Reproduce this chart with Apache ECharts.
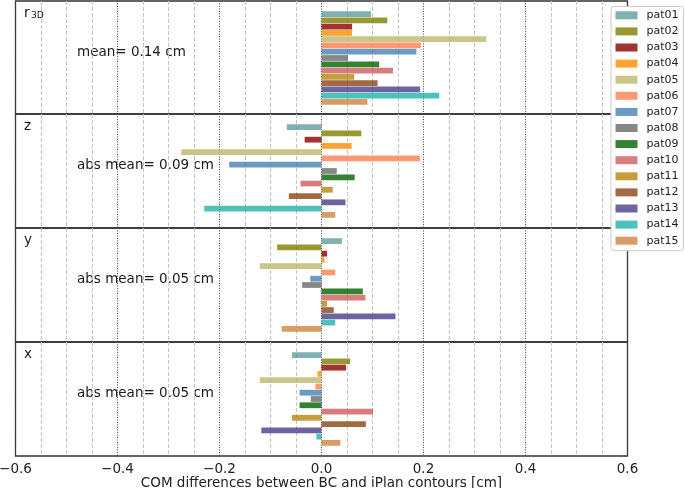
<!DOCTYPE html>
<html>
<head>
<meta charset="utf-8">
<script src="https://cdn.jsdelivr.net/npm/echarts@6/dist/echarts.min.js"></script>
<style>html,body{margin:0;padding:0;background:#fff}#c{width:685px;height:488px}</style>
</head>
<body>
<div id="c"></div>
<script>
const categories = ['pat01','pat02','pat03','pat04','pat05','pat06','pat07','pat08','pat09','pat10','pat11','pat12','pat13','pat14','pat15'];
const panelNames = ['r3D','z','y','x'];
const meanTexts = ['mean= 0.14 cm','abs mean= 0.09 cm','abs mean= 0.05 cm','abs mean= 0.05 cm'];
const r3d = [0.097,0.129,0.060,0.060,0.323,0.195,0.186,0.052,0.113,0.140,0.064,0.110,0.193,0.231,0.090];
const dz  = [-0.068,0.078,-0.033,0.059,-0.275,0.193,-0.181,0.030,0.065,-0.041,0.022,-0.064,0.047,-0.230,0.027];
const dy  = [0.040,-0.087,0.011,0.006,-0.121,0.027,-0.022,-0.038,0.081,0.086,0.011,0.024,0.145,0.027,-0.078];
const dx  = [-0.058,0.056,0.048,-0.008,-0.121,-0.012,-0.043,-0.021,-0.043,0.101,-0.058,0.087,-0.118,-0.010,0.037];
const xTicks = [-0.6,-0.4,-0.2,0.0,0.2,0.4,0.6];
const colors = ['#5F9EA0','#808000','#8B0000','#FF8C00','#BDB76B','#FF7F50','#4682B4','#696969','#006400','#CD5C5C','#B8860B','#8B4513','#483D8B','#20B2AA','#CD853F'];
const panelValues = [r3d, dz, dy, dx];

const FONT = 'DejaVu Sans';
const tops = [1,114,228,342];
const heights = [113,114,114,114];
const L = 15.5, R = 57.5;

const grid = [], xAxis = [], yAxis = [], series = [], graphic = [];
for (let p = 0; p < 4; p++) {
  grid.push({left:L, right:R, top:tops[p], height:heights[p], show:true, borderColor:'#333', borderWidth:1.3, backgroundColor:'transparent', containLabel:false, outerBoundsMode:'none'});
  xAxis.push({
    gridIndex:p, type:'value', min:-0.6, max:0.6, interval:0.2,
    axisLine:{show:false}, axisTick:{show:false},
    axisLabel:{show:p===3, fontFamily:FONT, fontSize:13.5, color:'#222', margin:6,
      showMinLabel:true, showMaxLabel:true, hideOverlap:false,
      formatter:v => { const t = xTicks.find(k => Math.abs(k - v) < 1e-6); return t === undefined ? '' : t.toFixed(1).replace('-', '\u2212'); }},
    splitLine:{show:true, lineStyle:{color:'#444', type:[1,1.5], width:1}},
    minorTick:{show:false, splitNumber:4},
    minorSplitLine:{show:true, lineStyle:{color:'#c4c4c4', type:[4,2], width:1}},
    name: p===3 ? 'COM differences between BC and iPlan contours [cm]' : '',
    nameLocation:'middle', nameGap:17.5,
    nameTextStyle:{fontFamily:FONT, fontSize:13.5, color:'#222'}
  });
  yAxis.push({gridIndex:p, type:'value', min:0, max:1, show:false});
}
for (let p = 0; p < 4; p++) {
  grid.push({left:L, right:R, top:tops[p]+10, height:94, containLabel:false, outerBoundsMode:'none'});
  xAxis.push({gridIndex:4+p, type:'value', min:-0.6, max:0.6, show:false});
  yAxis.push({gridIndex:4+p, type:'category', data:categories, inverse:true, show:false});
  for (let k = 0; k < categories.length; k++) {
    series.push({
      type:'bar', name:categories[k], xAxisIndex:4+p, yAxisIndex:4+p,
      data: categories.map((c, j) => j === k ? panelValues[p][j] : '-'),
      barGap:'-100%', barCategoryGap:'8%',
      itemStyle:{color:colors[k], opacity:0.8},
      silent:true
    });
  }
  if (p === 0) {
    graphic.push({type:'text', left:24, top:tops[p]+13.5-8, style:{text:'r', font:'13.5px "DejaVu Sans"', fill:'#1a1a1a'}});
    graphic.push({type:'text', left:31, top:tops[p]+16.5-6, style:{text:'3D', font:'9.2px "DejaVu Sans"', fill:'#1a1a1a'}});
  } else {
    graphic.push({type:'text', left:24, top:tops[p]+13.5-8, style:{text:panelNames[p], font:'13.5px "DejaVu Sans"', fill:'#1a1a1a'}});
  }
  graphic.push({type:'text', left:77, top:tops[p]+52-8, style:{text:meanTexts[p], font:'13.5px "DejaVu Sans"', fill:'#1a1a1a'}});
}

const chart = echarts.init(document.getElementById('c'), null, {renderer:'canvas'});
chart.setOption({
  animation:false,
  grid, xAxis, yAxis, series, graphic,
  legend:{
    data:categories, orient:'vertical', left:611, top:6.5,
    padding:[2.8,5,4,4.5], itemWidth:22, itemHeight:8, itemGap:4.1,
    icon:'rect', selectedMode:false,
    backgroundColor:'#fff', borderColor:'#cccccc', borderWidth:1, borderRadius:3,
    textStyle:{fontFamily:FONT, fontSize:11, color:'#222', lineHeight:12, padding:[0,0,0,4]},
    itemStyle:{opacity:0.8}
  }
});
</script>
</body>
</html>
